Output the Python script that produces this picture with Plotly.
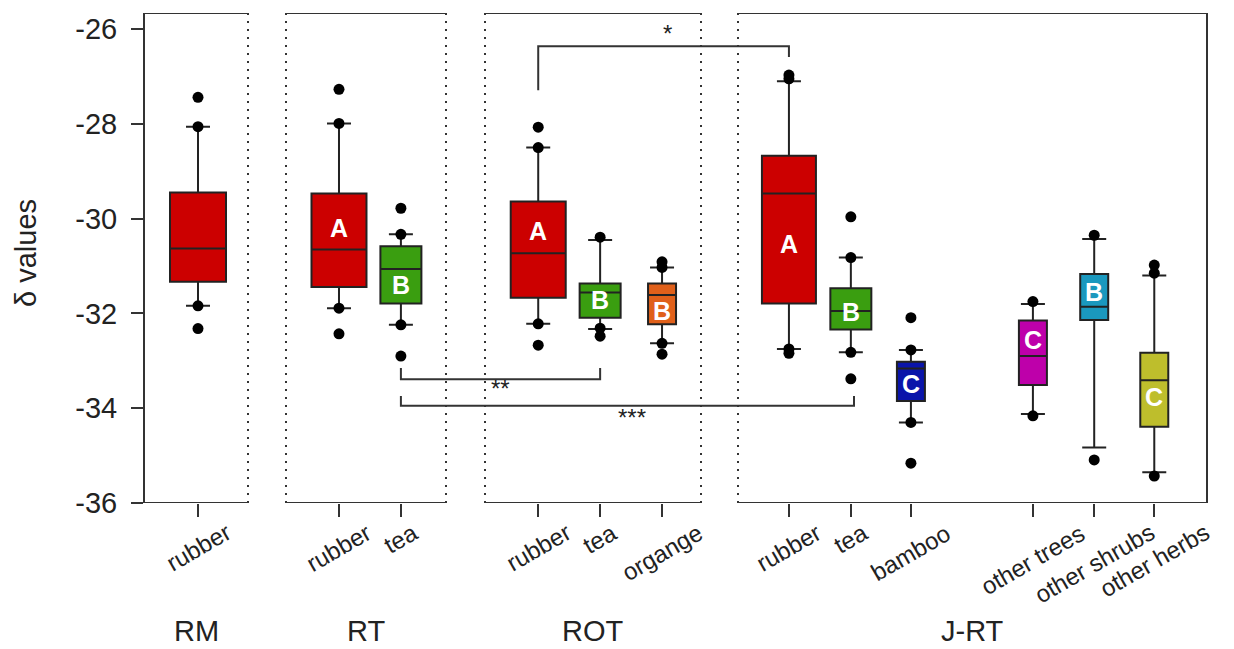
import plotly.graph_objects as go

# ---------------- data ----------------
groups = ["RM", "RT", "ROT", "J-RT"]
categories = ["rubber", "rubber", "tea", "rubber", "tea", "organge",
              "rubber", "tea", "bamboo", "other trees", "other shrubs", "other herbs"]
group_of = ["RM", "RT", "RT", "ROT", "ROT", "ROT",
            "J-RT", "J-RT", "J-RT", "J-RT", "J-RT", "J-RT"]
lower_whisker = [-31.84, -31.89, -32.24, -32.22, -32.33, -32.63,
                 -32.75, -32.82, -34.30, -34.12, -34.83, -35.35]
q1 = [-31.33, -31.44, -31.79, -31.67, -32.09, -32.23,
      -31.79, -32.34, -33.85, -33.51, -32.14, -34.39]
median = [-30.63, -30.65, -31.06, -30.73, -31.56, -31.61,
          -29.47, -31.95, -33.16, -32.90, -31.86, -33.41]
q3 = [-29.45, -29.47, -30.58, -29.64, -31.37, -31.37,
      -28.67, -31.47, -33.02, -32.15, -31.17, -32.83]
upper_whisker = [-28.06, -27.99, -30.33, -28.50, -30.45, -31.03,
                 -27.10, -30.82, -32.77, -31.80, -30.43, -31.20]
points = [
    [-27.44, -28.06, -31.84, -32.32],
    [-27.27, -27.99, -31.89, -32.43],
    [-29.78, -30.33, -32.24, -32.90],
    [-28.07, -28.50, -32.22, -32.67],
    [-30.39, -32.31, -32.48],
    [-30.91, -31.03, -32.63, -32.86],
    [-26.97, -27.05, -32.75, -32.84],
    [-29.96, -30.82, -32.82, -33.38],
    [-32.09, -32.77, -34.30, -35.16],
    [-31.75, -34.16],
    [-30.35, -35.09],
    [-30.98, -31.15, -35.43],
]
letters = ["", "A", "B", "A", "B", "B", "A", "B", "C", "C", "B", "C"]
significance = ["*", "**", "***"]
y_ticks = [-36, -34, -32, -30, -28, -26]

# ---------------- layout / style ----------------
OFF = 8                                       # page body margin of the html page
W, H = 1234 - OFF, 649 - OFF                  # figure size
PL, PR, PT, PB = 145, 1222, 13, 503           # plot area, in window pixels
PX_PER_UNIT, X0_PX = 61.3, 198
x_pos = [0, 2.30, 3.31, 5.55, 6.56, 7.57, 9.64, 10.65, 11.63, 13.62, 14.62, 15.60]
box_px = [56, 55, 41, 55, 41, 28, 54, 41, 28, 28, 28, 28]
colors = ["#CC0000", "#CC0000", "#3A9E10", "#CC0000", "#3A9E10", "#E0601A",
          "#CC0000", "#3A9E10", "#0A14AA", "#BE00AA", "#1A98BE", "#BEBE2C"]
letter_y = [None, -30.19, -31.40, -30.26, -31.72, -31.95,
            -30.54, -31.97, -33.48, -32.56, -31.54, -33.76]
panel_px = {"RM": (145, 248), "RT": (286, 446), "ROT": (485, 701), "J-RT": (738, 1207)}
panel_left_solid = {"RM": True, "RT": False, "ROT": False, "J-RT": False}
panel_right_solid = {"RM": False, "RT": False, "ROT": False, "J-RT": True}
YMIN, YMAX = -36, -25.66

FONT = "Liberation Sans, Arial, sans-serif"
DARK = "#222222"
LINE = "#333333"


def u(px):
    return (px - X0_PX) / PX_PER_UNIT


def xp(px):
    return (px - PL) / (PR - PL)


def yp(py):
    return (PB - py) / (PB - PT)


fig = go.Figure()

for i, cat in enumerate(categories):
    fig.add_trace(go.Box(
        x=[x_pos[i]], q1=[q1[i]], median=[median[i]], q3=[q3[i]],
        lowerfence=[lower_whisker[i]], upperfence=[upper_whisker[i]],
        width=box_px[i] / PX_PER_UNIT, whiskerwidth=min(1, 24 / box_px[i]),
        fillcolor=colors[i], line=dict(color=DARK, width=2),
        boxpoints=False, showlegend=False, hoverinfo="skip",
    ))

for i, pts in enumerate(points):
    fig.add_trace(go.Scatter(
        x=[x_pos[i]] * len(pts), y=pts, mode="markers",
        marker=dict(color="black", size=11), showlegend=False, hoverinfo="skip",
    ))

# significance brackets
brackets = [
    (x_pos[3], x_pos[6], -27.29, -26.36, -26.59, u(667), -26.10),
    (x_pos[2], x_pos[4], -33.15, -33.39, -33.15, u(500), -33.58),
    (x_pos[2], u(854), -33.74, -33.95, -33.74, u(632), -34.20),
]
for k, (xa, xb, ya, ym, yb, lx, ly) in enumerate(brackets):
    fig.add_trace(go.Scatter(
        x=[xa, xa, xb, xb], y=[ya, ym, ym, yb], mode="lines",
        line=dict(color=LINE, width=2), showlegend=False, hoverinfo="skip",
    ))
    fig.add_annotation(x=lx, y=ly, text=significance[k], showarrow=False,
                       font=dict(family=FONT, size=24, color=DARK))

# letters inside boxes
for i, t in enumerate(letters):
    if t:
        fig.add_annotation(x=x_pos[i], y=letter_y[i], text="<b>%s</b>" % t, showarrow=False,
                           font=dict(family=FONT, size=25, color="white"))

# panel borders
shapes = []
for g in groups:
    a, b = panel_px[g]
    xa, xb = u(a), u(b)
    for yy in (YMIN, YMAX):
        shapes.append(dict(type="line", xref="x", yref="y", x0=xa, x1=xb, y0=yy, y1=yy,
                           line=dict(color=LINE, width=2)))
    for xx, solid in ((xa, panel_left_solid[g]), (xb, panel_right_solid[g])):
        if g == "RM" and xx == xa:
            continue
        shapes.append(dict(type="line", xref="x", yref="y", x0=xx, x1=xx, y0=YMIN, y1=YMAX,
                           line=dict(color=LINE, width=2,
                                     dash="solid" if solid else "2px,6px")))
fig.update_layout(shapes=shapes)

# category labels (rotated, centred under ticks)
for i, cat in enumerate(categories):
    fig.add_annotation(x=x_pos[i], xref="x", y=yp(516), yref="paper", text=cat,
                       textangle=-30, showarrow=False, xanchor="center", yanchor="top",
                       font=dict(family=FONT, size=24, color=DARK))

# group labels
for g in groups:
    a, b = panel_px[g]
    fig.add_annotation(x=u((a + b) / 2), xref="x", y=yp(631), yref="paper", text=g,
                       showarrow=False, xanchor="center", yanchor="middle",
                       font=dict(family=FONT, size=29, color=DARK))

# y title
fig.add_annotation(x=xp(OFF), xref="paper", y=yp(253), yref="paper", text="δ values",
                   textangle=-90, showarrow=False, xanchor="left", yanchor="middle",
                   font=dict(family=FONT, size=29, color=DARK))

fig.update_layout(
    width=W, height=H,
    margin=dict(l=PL - OFF, r=W - (PR - OFF), t=PT - OFF, b=H - (PB - OFF), pad=0),
    plot_bgcolor="white", paper_bgcolor="white",
    boxmode="overlay",
    xaxis=dict(range=[u(PL), u(PR)], showgrid=False, zeroline=False, showline=False,
               tickvals=x_pos, ticktext=[""] * len(x_pos), showticklabels=False,
               ticks="outside", ticklen=13, tickwidth=2, tickcolor=LINE),
    yaxis=dict(range=[YMIN, YMAX], showgrid=False, zeroline=False, showline=True,
               linecolor=LINE, linewidth=2,
               tickvals=y_ticks, ticktext=[str(v) for v in y_ticks],
               ticks="outside", ticklen=12, tickwidth=2, tickcolor=LINE,
               ticklabelstandoff=8,
               tickfont=dict(family=FONT, size=29, color=DARK)),
)

fig.write_html("out.html")
